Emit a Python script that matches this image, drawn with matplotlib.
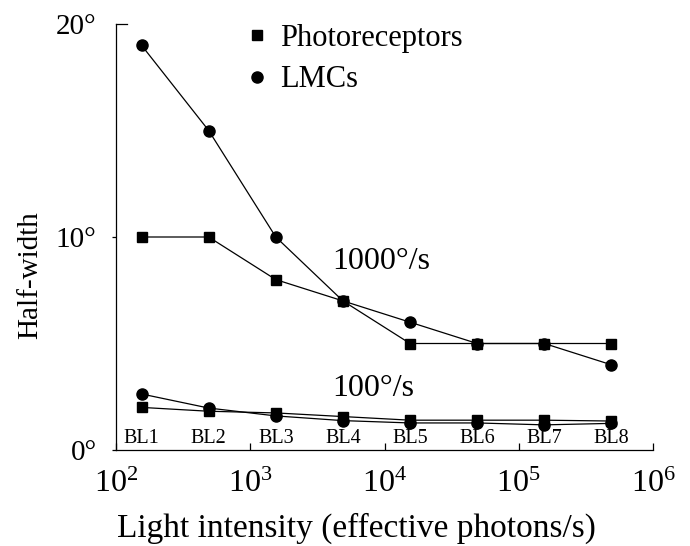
import matplotlib
matplotlib.use('Agg')
import matplotlib.pyplot as plt
from matplotlib.lines import Line2D
from matplotlib.transforms import blended_transform_factory

# Light intensity for the eight background levels (effective photons/s)
intensity = [155, 490, 1550, 4900, 15500, 49000, 155000, 490000]
bl_labels = ['BL1', 'BL2', 'BL3', 'BL4', 'BL5', 'BL6', 'BL7', 'BL8']

# Half-width (degrees) at 1000 deg/s
photo_1000 = [10.0, 10.0, 8.0, 7.0, 5.0, 5.0, 5.0, 5.0]
lmc_1000 = [19.0, 15.0, 10.0, 7.0, 6.0, 5.0, 5.0, 4.0]

# Half-width (degrees) at 100 deg/s
photo_100 = [2.0, 1.82, 1.74, 1.57, 1.4, 1.4, 1.4, 1.36]
lmc_100 = [2.63, 1.97, 1.6, 1.38, 1.27, 1.27, 1.18, 1.25]

yticks = [0, 10, 20]
ytick_labels = ['0°', '10°', '20°']
xticks = [1e2, 1e3, 1e4, 1e5, 1e6]
xtick_labels = ['$10^{2}$', '$10^{3}$', '$10^{4}$', '$10^{5}$', '$10^{6}$']

plt.rcParams['font.family'] = ['Liberation Serif', 'DejaVu Serif']
plt.rcParams['mathtext.fontset'] = 'custom'
plt.rcParams['mathtext.rm'] = 'Liberation Serif'
plt.rcParams['mathtext.it'] = 'Liberation Serif:italic'

fig = plt.figure(figsize=(6.9, 5.46), dpi=100)
ax = fig.add_axes([116 / 690, 1 - 450 / 546, (653 - 116) / 690, (450 - 24) / 546])

# the four curves
sq = dict(marker='s', markersize=7.5, color='black', linewidth=0.9)
ci = dict(marker='o', markersize=8, color='black', linewidth=0.9)
ax.plot(intensity, photo_1000, **sq)
ax.plot(intensity, lmc_1000, **ci)
ax.plot(intensity, photo_100, **sq)
ax.plot(intensity, lmc_100, **ci)

ax.set_xscale('log')
ax.set_xlim(1e2, 1e6)
ax.set_ylim(0, 20)
ax.spines['top'].set_visible(False)
ax.spines['right'].set_visible(False)
ax.spines['left'].set_linewidth(0.9)
ax.spines['bottom'].set_linewidth(0.9)

ax.set_xticks(xticks)
ax.set_xticklabels(xtick_labels, fontsize=23)
ax.xaxis.set_minor_locator(matplotlib.ticker.NullLocator())
ax.tick_params(axis='x', direction='in', length=5, width=0.9, pad=14)

ax.set_yticks(yticks)
ax.set_yticklabels(ytick_labels, fontsize=21)
ax.tick_params(axis='y', direction='out', length=3, width=0.9, pad=11)
# top tick of the y axis points inward in the original
ax.yaxis.get_major_ticks()[2].tick1line.set_visible(False)
trans = blended_transform_factory(ax.transAxes, ax.transData)
ax.plot([0, 0.021], [20, 20], color='black', linewidth=0.9, transform=trans, clip_on=False)

# background level labels along the bottom
for x, lab in zip(intensity, bl_labels):
    ax.annotate(lab, xy=(x, 0), xytext=(0, 1.5), textcoords='offset points',
                ha='center', va='bottom', fontsize=14.5)

# speed labels
ax.text(332 / 690, 1 - 261 / 546, '1000°/s', transform=fig.transFigure,
        ha='left', va='center', fontsize=23)
ax.text(332 / 690, 1 - 388 / 546, '100°/s', transform=fig.transFigure,
        ha='left', va='center', fontsize=23)

handles = [Line2D([], [], marker='s', markersize=7.5, color='black', linestyle='none'),
           Line2D([], [], marker='o', markersize=8, color='black', linestyle='none')]
fig.legend(handles, ['Photoreceptors', 'LMCs'], loc='upper left',
           bbox_to_anchor=(245 / 690, 1 - 24 / 546), frameon=False, fontsize=22,
           handlelength=0.8, handletextpad=0.35, labelspacing=0.4,
           borderpad=0, borderaxespad=0)

fig.text(30 / 690, 1 - 275 / 546, 'Half-width', rotation=90, ha='center', va='center', fontsize=21)
fig.text(356 / 690, 1 - 537 / 546, 'Light intensity (effective photons/s)',
         ha='center', va='baseline', fontsize=24)

fig.savefig('out.png', dpi=100)
